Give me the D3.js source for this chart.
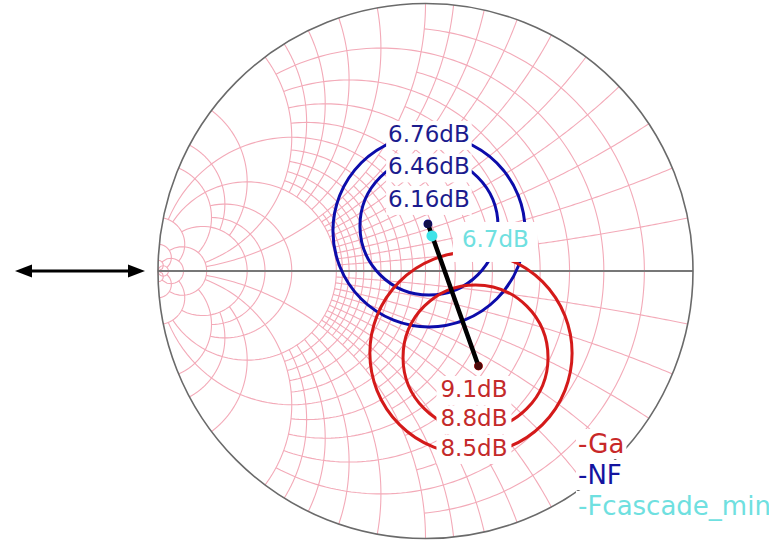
<!DOCTYPE html>
<html>
<head>
<meta charset="utf-8">
<style>
  body { margin: 0; background: #fff; }
  svg { display: block; font-family: "DejaVu Sans", Verdana, sans-serif; }
  .grid path { fill: none; stroke: #f3aab8; stroke-width: 1.1; }
</style>
</head>
<body>
<svg width="769" height="541"></svg>
<script src="https://d3js.org/d3.v7.min.js"></script>
<script>
// admittance grid: conductance circles [g, max |b|] and susceptance arcs [b, max g]
var gCircles = [[0.1, 1], [0.2, 2], [0.3, 1], [0.4, 2], [0.5, 1], [0.6, 2], [0.7, 1], [0.8, 2], [0.9, 1], [1, 10],
  [1.1, 1], [1.2, 2], [1.3, 1], [1.4, 2], [1.5, 1], [1.6, 2], [1.7, 1], [1.8, 2], [1.9, 1], [2, 10],
  [3, 5], [4, 5], [5, 10], [10, 20], [20, 50], [50, Infinity]];
var bArcs = [[0.1, 2], [0.2, 2], [0.3, 2], [0.4, 2], [0.5, 2], [0.6, 2], [0.7, 2], [0.8, 2], [0.9, 2], [1, 10],
  [1.2, 2], [1.4, 2], [1.6, 2], [1.8, 2], [2, 10], [3, 5], [4, 5], [5, 10], [10, 20], [20, 50], [50, Infinity]];

// noise figure circles, centres and radii in reflection coefficient units
var nfLevels = ["6.16dB", "6.46dB", "6.76dB"];
var nfCentres = [[0.009, 0.176], [0.013, 0.168], [0.013, 0.150]];
var nfRadii = [0.011, 0.258, 0.359];

// available gain circles
var gaLevels = ["9.1dB", "8.8dB", "8.5dB"];
var gaCentres = [[0.198, -0.355], [0.187, -0.323], [0.170, -0.307]];
var gaRadii = [0.011, 0.271, 0.378];

var fcMin = [0.024, 0.131];
var fcLabel = "6.7dB";

var legendNames = ["-Ga", "-NF", "-Fcascade_min"];
var legendColors = ["#c82828", "#14149f", "#6fe0e0"];

var svg = d3.select("svg");
var cx = 425.5, cy = 271, R = 267.5;

var x = d3.scaleLinear().domain([-1, 1]).range([cx - R, cx + R]);
var y = d3.scaleLinear().domain([-1, 1]).range([cy + R, cy - R]);

function gamma(g, b) {
  // (1 - Y) / (1 + Y)
  var nr = 1 - g, ni = -b, dr = 1 + g, di = b;
  var den = dr * dr + di * di;
  return [(nr * dr + ni * di) / den, (ni * dr - nr * di) / den];
}

var line = d3.line().x(function(d) { return x(d[0]); }).y(function(d) { return y(d[1]); });

var grid = svg.append("g").attr("class", "grid");

gCircles.forEach(function(c) {
  var g = c[0], bmax = c[1];
  if (bmax === Infinity) {
    grid.append("circle")
      .attr("cx", x(-g / (1 + g))).attr("cy", y(0))
      .attr("r", x(1 / (1 + g)) - x(0))
      .attr("fill", "none").attr("stroke", "#f3aab8").attr("stroke-width", 1.1);
    return;
  }
  var t = Math.atan(bmax);
  var pts = d3.range(0, 201).map(function(i) {
    return gamma(g, Math.tan(-t + 2 * t * i / 200));
  });
  grid.append("path").attr("d", line(pts));
});

bArcs.forEach(function(c) {
  var b = c[0], gmax = c[1];
  var t = gmax === Infinity ? Math.PI / 2 - 1e-4 : Math.atan(gmax);
  [b, -b].forEach(function(bb) {
    var pts = d3.range(0, 151).map(function(i) {
      return gamma(Math.tan(t * i / 150), bb);
    });
    grid.append("path").attr("d", line(pts));
  });
});

// real axis and outer rim
svg.append("line")
  .attr("x1", x(-1)).attr("x2", x(1))
  .attr("y1", y(0)).attr("y2", y(0))
  .attr("stroke", "#777").attr("stroke-width", 2);

svg.append("circle")
  .attr("cx", x(0)).attr("cy", y(0)).attr("r", x(1) - x(0))
  .attr("fill", "none").attr("stroke", "#6a6a6a").attr("stroke-width", 1.6);

// double arrow on the left
var ay = y(0);
svg.append("line")
  .attr("x1", 28).attr("x2", 132).attr("y1", ay).attr("y2", ay)
  .attr("stroke", "#000").attr("stroke-width", 3);
svg.append("path")
  .attr("d", "M15," + ay + "L32," + (ay - 6.5) + "L32," + (ay + 6.5) + "Z")
  .attr("fill", "#000");
svg.append("path")
  .attr("d", "M145," + ay + "L128," + (ay - 6.5) + "L128," + (ay + 6.5) + "Z")
  .attr("fill", "#000");

// circles
svg.append("g").selectAll("circle")
  .data(nfRadii)
  .enter().append("circle")
  .attr("cx", function(d, i) { return x(nfCentres[i][0]); })
  .attr("cy", function(d, i) { return y(nfCentres[i][1]); })
  .attr("r", function(d) { return x(d) - x(0); })
  .attr("fill", "none").attr("stroke", "#0c0caa").attr("stroke-width", 3);

svg.append("g").selectAll("circle")
  .data(gaRadii)
  .enter().append("circle")
  .attr("cx", function(d, i) { return x(gaCentres[i][0]); })
  .attr("cy", function(d, i) { return y(gaCentres[i][1]); })
  .attr("r", function(d) { return x(d) - x(0); })
  .attr("fill", "none").attr("stroke", "#d41a1a").attr("stroke-width", 3);

// line from min noise point to max gain point
svg.append("path")
  .attr("d", line([nfCentres[0], gaCentres[0]]))
  .attr("stroke", "#000").attr("stroke-width", 4.5).attr("stroke-linecap", "round");

svg.append("circle")
  .attr("cx", x(nfCentres[0][0])).attr("cy", y(nfCentres[0][1])).attr("r", 4)
  .attr("fill", "#10104a");
svg.append("circle")
  .attr("cx", x(gaCentres[0][0])).attr("cy", y(gaCentres[0][1])).attr("r", 4)
  .attr("fill", "#4a0a0a");

svg.append("circle")
  .attr("cx", x(fcMin[0])).attr("cy", y(fcMin[1])).attr("r", 5.5)
  .attr("fill", "#3fe3e8");

// labels with white boxes
function boxedText(tx, ty, anchor, str, color, size, padX, padTop, padBottom) {
  var g = svg.append("g");
  var rect = g.append("rect").attr("fill", "#fff");
  var t = g.append("text")
    .attr("x", tx).attr("y", ty)
    .attr("text-anchor", anchor)
    .attr("font-size", size)
    .attr("fill", color)
    .text(str);
  var bb = t.node().getBBox();
  rect.attr("x", bb.x - padX).attr("y", bb.y - padTop)
    .attr("width", bb.width + 2 * padX).attr("height", bb.height + padTop + padBottom);
}

var nfx = x(nfCentres[0][0]), nfy = y(nfCentres[0][1]);
nfLevels.forEach(function(s, i) {
  boxedText(nfx + 1, nfy - 17 - i * 32.5, "middle", s, "#1c1c8e", 23, 2, 0, 3);
});

var gax = x(gaCentres[0][0]), gay = y(gaCentres[0][1]);
gaLevels.forEach(function(s, i) {
  boxedText(gax - 4.5, gay + 31 + i * 29.5, "middle", s, "#c42a2a", 23, 4, 0, 3);
});

boxedText(x(fcMin[0]) + 30, y(fcMin[1]) + 11, "start", fcLabel, "#6fe0e0", 23, 9, 4, 10);

legendNames.forEach(function(s, i) {
  boxedText(578, 453 + i * 31, "start", s, legendColors[i], 26, 2, 0, 0);
});
</script>
</body>
</html>
